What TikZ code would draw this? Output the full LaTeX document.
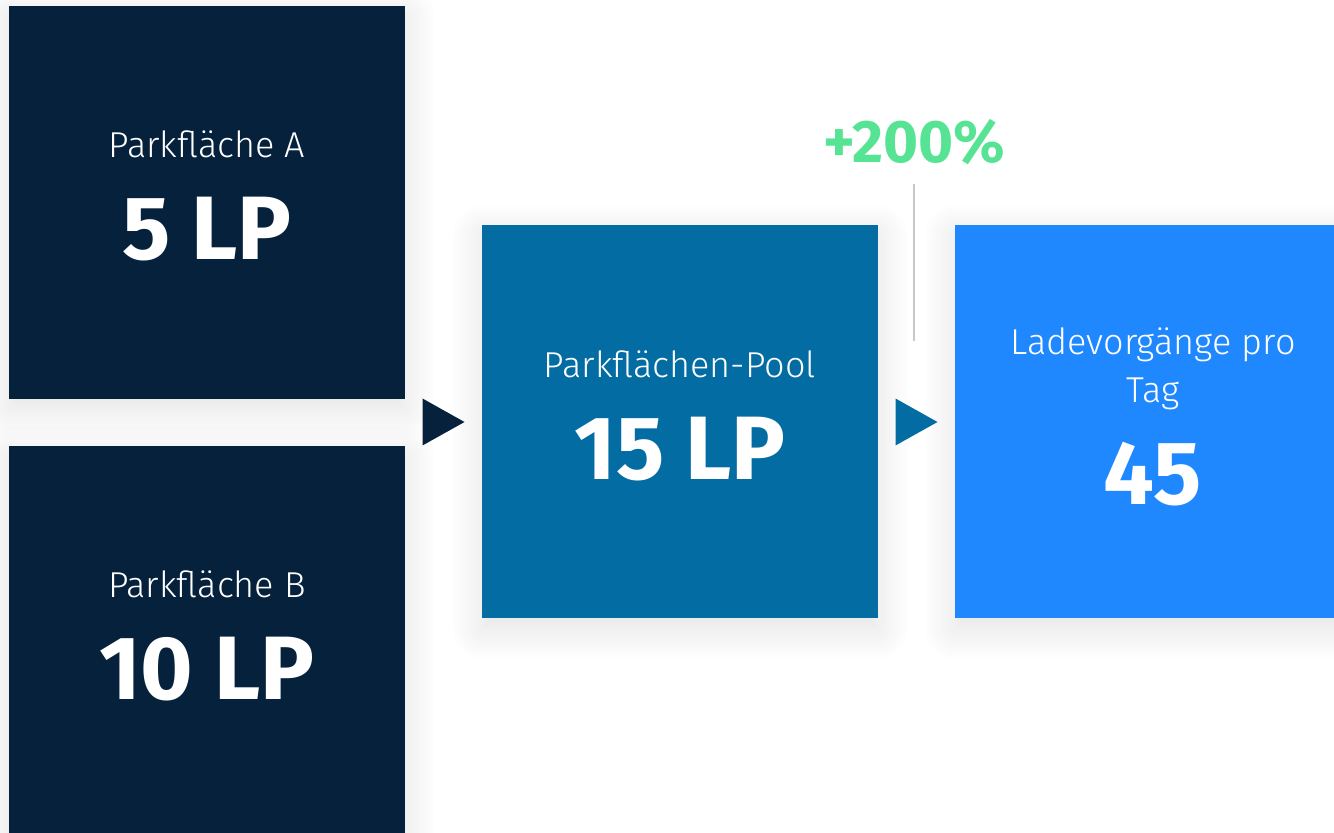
\documentclass[tikz,border=0pt]{standalone}
\usepackage{fontspec}
\setmainfont{Fira Sans}[UprightFont=* Light,BoldFont=* Bold]
\usetikzlibrary{calc,positioning,shadows.blur}
\definecolor{navy}{HTML}{06213B}
\definecolor{pool}{HTML}{036CA3}
\definecolor{lade}{HTML}{1F88FF}
\definecolor{plusgreen}{HTML}{57E394}
\definecolor{rule}{HTML}{C8C8C8}

\begin{document}
\begin{tikzpicture}[x=0.5pt,y=-0.5pt,
  box/.style={minimum width=198pt,minimum height=196.5pt,inner sep=0pt,
    blur shadow={shadow xshift=0pt,shadow yshift=-5pt,shadow blur radius=16pt,shadow blur steps=20,shadow opacity=12}},
  lbl/.style={text=white,font=\fontsize{18}{24}\selectfont,anchor=base,align=center,inner sep=0pt},
  num/.style={text=white,font=\bfseries\fontsize{45}{50}\selectfont,anchor=base,inner sep=0pt}]
  \useasboundingbox (0,0) rectangle (1334,833);
  \clip (0,0) rectangle (1334,833);
  % boxes
  \node[box,fill=navy] (pa) at (207,202.5) {};
  \node[box,fill=navy] (pb) at (207,642.5) {};
  \node[box,fill=pool] (pool) at (680,422) {};
  \node[box,fill=lade] (lade) at (1153,422) {};
  % texts
  \node[lbl] (pa-t) at ($(pa.center)+(0,-44.5)$) {Parkfläche A};
  \node[num] (pa-n) at ($(pa.center)+(0,57.5)$) {5 LP};
  \node[lbl] (pb-t) at ($(pb.center)+(0,-44.5)$) {Parkfläche B};
  \node[num] (pb-n) at ($(pb.center)+(0,57.5)$) {10 LP};
  \node[lbl] (pool-t) at ($(pool.center)+(0,-44)$) {Parkflächen-Pool};
  \node[num] (pool-n) at ($(pool.center)+(0,58)$) {15 LP};
  \node[lbl] (lade-t) at ($(lade.center)+(0,-19)$) {Ladevorgänge pro\\Tag};
  \node[num] (lade-n) at ($(lade.center)+(0,83)$) {45};
  % triangles between the boxes
  \coordinate (t1) at ($(pa.east |- pool.center)!0.5!(pool.west)$);
  \coordinate (t2) at ($(pool.east)!0.5!(lade.west)$);
  \foreach \t/\c in {t1/navy,t2/pool}
    \fill[\c] ($(\t)+(-21,-23.5)$) -- ++(42,23.5) -- ++(-42,23.5) -- cycle;
  % growth
  \node[text=plusgreen,font=\bfseries\fontsize{30}{36}\selectfont,anchor=base,inner sep=0pt] (plus) at (914,163) {+200\%};
  \coordinate (r1) at (914,184);
  \coordinate (r2) at (914,341);
  \draw[rule,line width=1pt] (r1) -- (r2);
\end{tikzpicture}
\end{document}
